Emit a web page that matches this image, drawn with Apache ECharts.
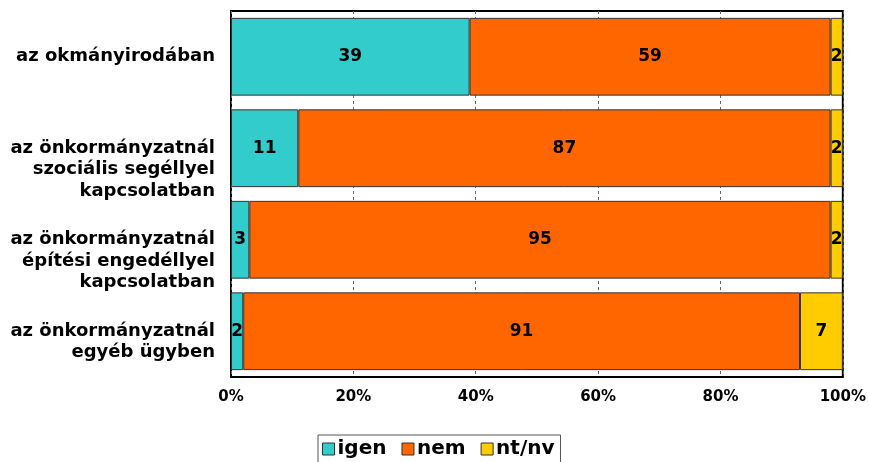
<!DOCTYPE html>
<html>
<head>
<meta charset="utf-8">
<script src="https://cdn.jsdelivr.net/npm/echarts@6/dist/echarts.min.js"></script>
<style>
  html, body { margin: 0; padding: 0; background: #fff; }
  #chart { width: 869px; height: 462px; }
</style>
</head>
<body>
<div id="chart"></div>
<script>
// Categories (top to bottom) and percentage shares per answer
const categories = [
  'az okmányirodában',
  'az önkormányzatnál\nszociális segéllyel\nkapcsolatban',
  'az önkormányzatnál\népítési engedéllyel\nkapcsolatban',
  'az önkormányzatnál\negyéb ügyben'
];
const igen = [39, 11, 3, 2];
const nem = [59, 87, 95, 91];
const ntnv = [2, 2, 2, 7];
const seriesNames = ['igen', 'nem', 'nt/nv'];
const colors = ['#33CCCC', '#FF6600', '#FFCC00'];

const FONT = 'DejaVu Sans';

function makeSeries(name, data, color) {
  return {
    name: name,
    type: 'bar',
    stack: 'total',
    data: data,
    barWidth: '85%',
    itemStyle: { color: color, borderColor: '#333', borderWidth: 1 },
    label: {
      show: true,
      position: 'inside',
      color: '#000',
      fontFamily: FONT,
      fontWeight: 'bold',
      fontSize: 17
    }
  };
}

// Category labels hang from the band centre: the first line sits level with the bar.
function hangLabel(value) {
  const n = value.split('\n').length;
  return '\n'.repeat(n - 1) + value;
}

const chart = echarts.init(document.getElementById('chart'));
chart.setOption({
  animation: false,
  textStyle: { fontFamily: FONT },
  grid: {
    left: 231, right: 26, top: 11, bottom: 85,
    show: true, borderColor: '#000', borderWidth: 2, backgroundColor: '#fff'
  },
  legend: {
    left: 318, top: 435,
    data: seriesNames,
    icon: 'rect',
    itemWidth: 12, itemHeight: 12, itemGap: 15,
    padding: [4, 6, 8, 4],
    borderColor: '#555', borderWidth: 1,
    itemStyle: { borderColor: '#333', borderWidth: 1 },
    textStyle: { fontFamily: FONT, fontWeight: 'bold', fontSize: 20, color: '#000', padding: [0, 0, 0, -2] }
  },
  xAxis: {
    type: 'value', min: 0, max: 100, interval: 20,
    axisLine: { show: false },
    axisTick: { show: false },
    splitLine: { show: true, lineStyle: { color: '#666', type: [3, 3], width: 1 } },
    axisLabel: {
      formatter: '{value}%', color: '#000', fontFamily: FONT,
      fontWeight: 'bold', fontSize: 15, margin: 13
    }
  },
  yAxis: {
    type: 'category', data: categories, inverse: true,
    axisLine: { show: false },
    axisTick: { show: false },
    axisLabel: {
      formatter: hangLabel,
      color: '#000', fontFamily: FONT, fontWeight: 'bold', fontSize: 18,
      lineHeight: 21.5, margin: 16, align: 'right', padding: [4, 0, 0, 0]
    }
  },
  series: [
    makeSeries(seriesNames[0], igen, colors[0]),
    makeSeries(seriesNames[1], nem, colors[1]),
    makeSeries(seriesNames[2], ntnv, colors[2])
  ]
});
</script>
</body>
</html>
